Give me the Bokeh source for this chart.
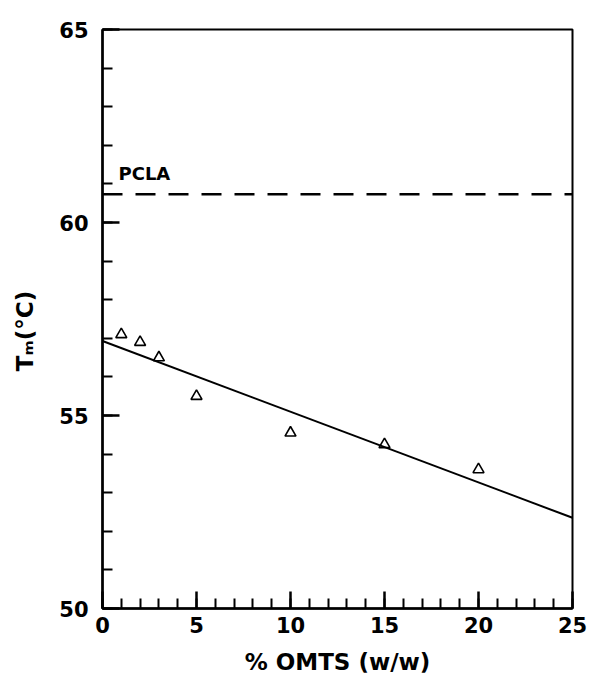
from bokeh.plotting import figure
from bokeh.models import Range1d, SingleIntervalTicker, Span, Label
from bokeh.embed import file_html
from bokeh.resources import INLINE

# data
omts = [1, 2, 3, 5, 10, 15, 20]
tm = [57.1, 56.9, 56.5, 55.5, 54.55, 54.25, 53.6]
fit_x = [0, 25]
fit_y = [56.93, 52.35]
pcla_tm = 60.73
pcla_label = "PCLA"
x_label = "% OMTS (w/w)"
y_label = "T\u2098(°C)\u00a0\u00a0\u00a0"

FONT = "DejaVu Sans"

p = figure(width=591, height=678, output_backend="svg", toolbar_location=None,
           x_range=Range1d(0, 25), y_range=Range1d(50, 65),
           min_border_left=102, min_border_right=19, min_border_top=29,
           min_border_bottom=70, background_fill_color="white",
           border_fill_color="white")

p.xgrid.visible = False
p.ygrid.visible = False
p.outline_line_color = "black"
p.outline_line_width = 2

for ax in (p.xaxis[0], p.yaxis[0]):
    ax.ticker = SingleIntervalTicker(interval=5, num_minor_ticks=5)
    ax.axis_line_width = 2.5
    ax.axis_line_color = "black"
    ax.major_tick_in = 17
    ax.major_tick_out = 0
    ax.minor_tick_in = 10
    ax.minor_tick_out = 0
    ax.major_tick_line_width = 2.5
    ax.minor_tick_line_width = 2
    ax.major_tick_line_color = "black"
    ax.minor_tick_line_color = "black"
    ax.major_label_text_font = FONT
    ax.major_label_text_font_style = "bold"
    ax.major_label_text_font_size = "21px"
    ax.major_label_text_color = "black"
    ax.axis_label_text_font = FONT
    ax.axis_label_text_font_style = "bold"
    ax.axis_label_text_font_size = "23px"
    ax.axis_label_text_color = "black"

p.yaxis.major_label_standoff = 14
p.xaxis.major_label_standoff = 8
p.xaxis.axis_label = x_label
p.xaxis.axis_label_standoff = 13
p.yaxis.axis_label = y_label
p.yaxis.axis_label_standoff = 18

# PCLA reference line
p.add_layout(Span(location=pcla_tm, dimension="width", line_color="black",
                  line_width=2.5, line_dash="20 13"))
p.add_layout(Label(x=0.85, y=61.01, text=pcla_label, text_font=FONT,
                   text_font_style="bold", text_font_size="18px",
                   text_color="black"))

# fit line and points
p.line(fit_x, fit_y, line_color="black", line_width=2)
p.scatter(omts, tm, marker="triangle", size=11, fill_color=None,
          line_color="black", line_width=1.6)

open("out.html", "w").write(file_html(p, INLINE))
